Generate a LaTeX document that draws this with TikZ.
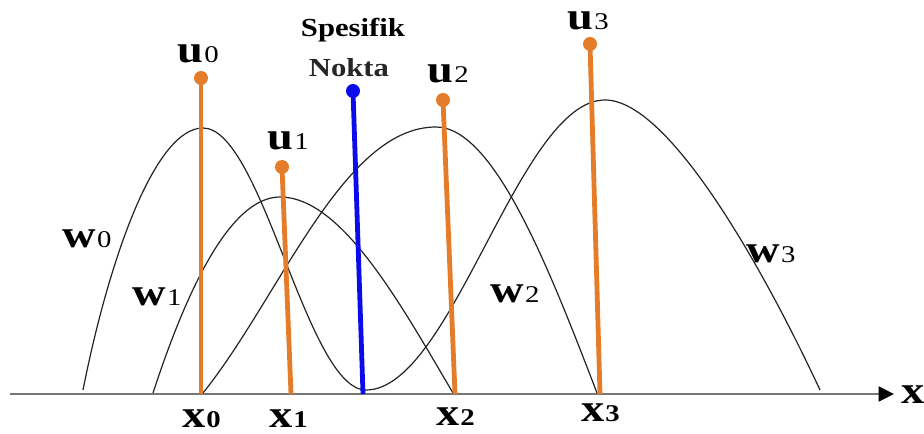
\documentclass[tikz,border=0pt]{standalone}
\usepackage{fontspec}
\setmainfont{Liberation Serif}
\usepackage{graphicx}
\usetikzlibrary{arrows.meta}
\definecolor{uorange}{RGB}{228,124,42}
\definecolor{spblue}{RGB}{12,12,235}
\definecolor{axisgray}{RGB}{118,118,118}
\definecolor{curvegray}{RGB}{35,35,35}
\newcommand{\mylbl}[2]{\scalebox{1.2}[1]{\fontsize{29}{31}\selectfont\bfseries #1\kern0.8pt\fontsize{18}{20}\selectfont\mdseries #2}}
\newcommand{\mylblb}[2]{\scalebox{1.2}[1]{\fontsize{29}{31}\selectfont\bfseries #1\kern0.5pt\fontsize{18}{20}\selectfont #2}}
\newcommand{\sptext}[1]{\scalebox{1.18}[1]{\fontsize{19.5}{22}\selectfont\bfseries #1}}
\begin{document}
\begin{tikzpicture}[x=0.75pt,y=-0.75pt,
  lbl/.style={inner sep=0pt,anchor=base west},
  dotnode/.style={circle,inner sep=0pt,minimum size=10.5pt},
  ustem/.style={uorange,line width=3.6pt},
  bstem/.style={spblue,line width=3.6pt},
  wcurve/.style={curvegray,line width=0.9pt},
  axisline/.style={axisgray,line width=2.2pt,-{Triangle[length=11.5pt,width=11pt,color=black]}}]
\useasboundingbox (0,0) rectangle (924,434);
% axis
\coordinate (axL) at (10,394);
\coordinate (axR) at (894,394);
\draw[axisline] (axL) -- (axR);
% basis curves (w0 runs on into w3 through a rounded valley)
\draw[wcurve] (83,390) .. controls (109,259) and (155,128) .. (203,128)
  .. controls (262,128) and (307,390) .. (366,390)
  .. controls (452,390) and (519,100) .. (605,100)
  .. controls (670,100) and (766,274) .. (820,390);
\draw[wcurve] (153,393) .. controls (185,295) and (229,197) .. (280,197)
  .. controls (342,197) and (401,305) .. (453,393);
\draw[wcurve] (203,393) .. controls (280,297) and (343,127) .. (436,127)
  .. controls (494,127) and (549,268) .. (597,393);
% stems
\node[dotnode,fill=uorange] (u0d) at (201,78) {};
\node[dotnode,fill=uorange] (u1d) at (282,167) {};
\node[dotnode,fill=spblue] (spd) at (353,91) {};
\node[dotnode,fill=uorange] (u2d) at (443,100) {};
\node[dotnode,fill=uorange] (u3d) at (590,44) {};
\coordinate (x0b) at (201,394);
\coordinate (x1b) at (291,394);
\coordinate (spb) at (363,394);
\coordinate (x2b) at (455,394);
\coordinate (x3b) at (600,394);
\draw[ustem] (u0d.center) -- (x0b);
\draw[ustem] (u1d.center) -- (x1b);
\draw[bstem] (spd.center) -- (spb);
\draw[ustem] (u2d.center) -- (x2b);
\draw[ustem] (u3d.center) -- (x3b);
% labels
\node[lbl] (lu0) at (177,63) {\mylbl{u}{0}};
\node[lbl] (lu1) at (267,150) {\mylbl{u}{1}};
\node[lbl] (lu2) at (427,83) {\mylbl{u}{2}};
\node[lbl] (lu3) at (567,30) {\mylbl{u}{3}};
\node[lbl] (lw0) at (62,248) {\mylbl{w}{0}};
\node[lbl] (lw1) at (132,306) {\mylbl{w}{1}};
\node[lbl] (lw2) at (490,303) {\mylbl{w}{2}};
\node[lbl] (lw3) at (746,263) {\mylbl{w}{3}};
\node[lbl] (lx0) at (182,427) {\mylblb{x}{0}};
\node[lbl] (lx1) at (269,427) {\mylblb{x}{1}};
\node[lbl] (lx2) at (436,425) {\mylblb{x}{2}};
\node[lbl] (lx3) at (581,421) {\mylblb{x}{3}};
\node[lbl] (lx) at (901,403) {\mylbl{x}{}};
\node[inner sep=0pt,anchor=base] (sp1) at (353,37) {\sptext{Spesifik}};
\node[inner sep=0pt,anchor=base,text=black!85] (sp2) at (349,77) {\sptext{Nokta}};
\end{tikzpicture}
\end{document}
